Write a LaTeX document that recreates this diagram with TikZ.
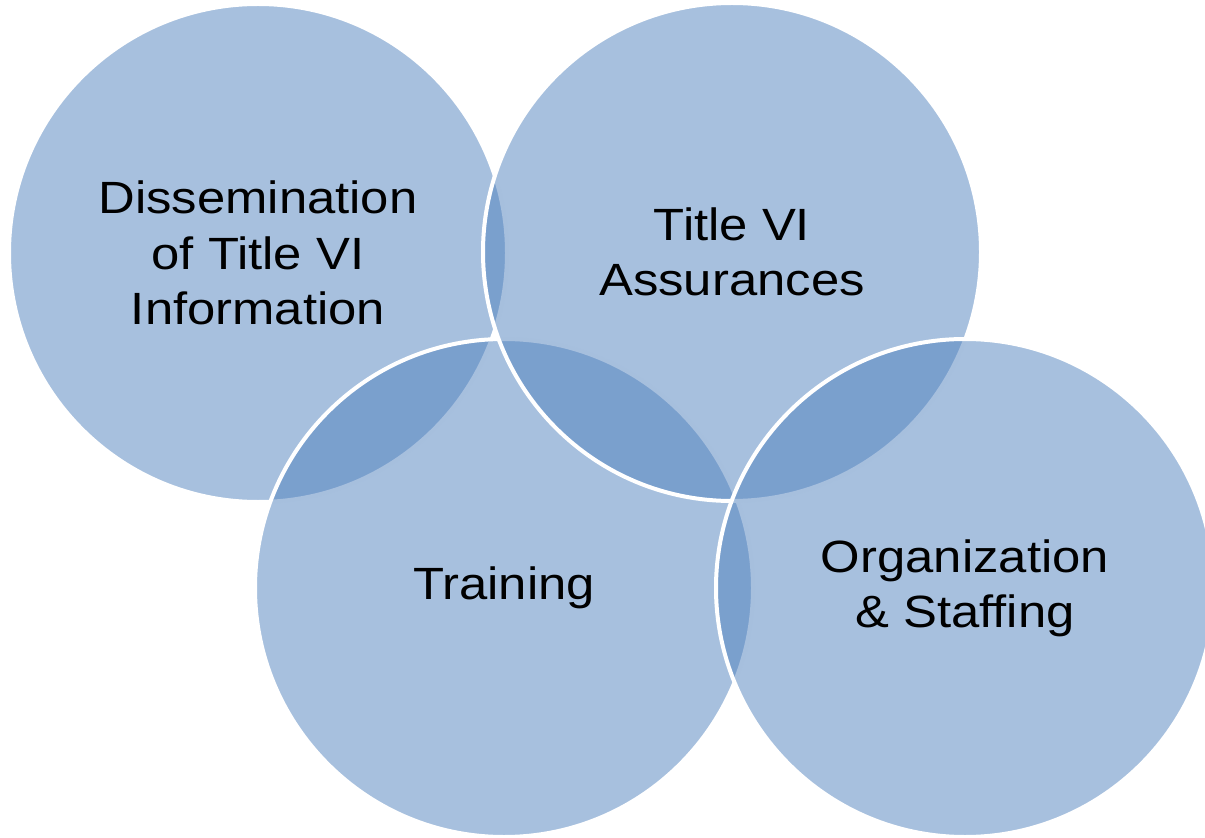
\documentclass[tikz,border=0pt]{standalone}
\usepackage{fontspec}
\setmainfont{Liberation Sans}
\usepackage{tikz}

\definecolor{vennblue}{HTML}{4F81BD}

\begin{document}
\begin{tikzpicture}[x=0.5pt,y=0.5pt,
    venn/.style={circle,minimum size=249pt,inner sep=0pt,
      fill=vennblue,fill opacity=0.5,draw=white,line width=2pt},
    vennlabel/.style={align=center,font=\fontsize{25.4}{31}\selectfont,
      yscale=0.89,transform shape}]
  \clip (0,0) rectangle (1205,837);
  % circles, later ones sit on top
  \node[venn] (dissem) at (258,584) {};
  \node[venn] (training) at (504,249) {};
  \node[venn] (assur) at (732,585) {};
  \node[venn] (staff) at (965,249) {};
  % labels
  \node[vennlabel] (dissemtext) at (dissem) {Dissemination\\of Title VI\\Information};
  \node[vennlabel] (assurtext) at (assur) {Title VI\\Assurances};
  \node[vennlabel] (trainingtext) at (training) {Training};
  \node[vennlabel] (stafftext) at (staff) {Organization\\\& Staffing};
\end{tikzpicture}
\end{document}
